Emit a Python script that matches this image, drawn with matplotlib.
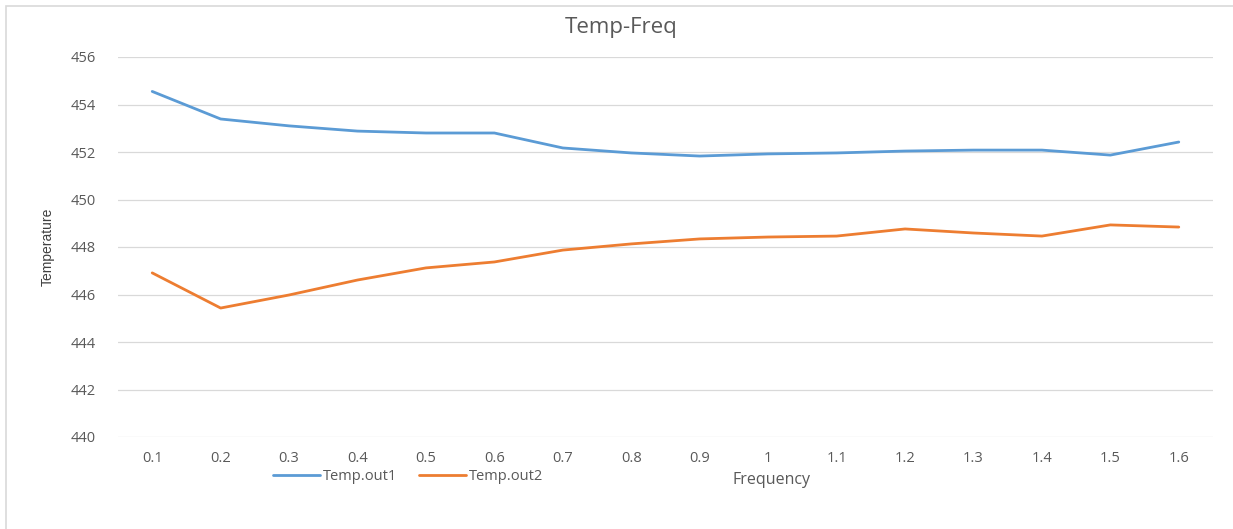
import matplotlib
matplotlib.use("Agg")
import matplotlib.pyplot as plt
from matplotlib.patches import Rectangle

# 频率-温度数据
freq = ["0.1", "0.2", "0.3", "0.4", "0.5", "0.6", "0.7", "0.8",
        "0.9", "1", "1.1", "1.2", "1.3", "1.4", "1.5", "1.6"]
temp_out1 = [454.55, 453.39, 453.10, 452.88, 452.80, 452.80, 452.17, 451.96,
             451.83, 451.92, 451.96, 452.04, 452.08, 452.08, 451.87, 452.42]
temp_out2 = [446.91, 445.43, 445.98, 446.61, 447.12, 447.37, 447.87, 448.13,
             448.34, 448.42, 448.46, 448.76, 448.59, 448.46, 448.93, 448.84]
y_ticks = [440, 442, 444, 446, 448, 450, 452, 454, 456]

W, H = 1233, 529
fig = plt.figure(figsize=(W / 100, H / 100), dpi=100)
fig.patch.set_facecolor("white")

# 外框
fig.patches.append(Rectangle((6 / W, -0.1), 1.2, 1.1 - 6 / H, transform=fig.transFigure,
                             fill=False, edgecolor="#D9D9D9", lw=1.2))

ax = fig.add_axes([118 / W, 1 - 437 / H, (1213 - 118) / W, (437 - 57) / H])
x = list(range(len(freq)))
ax.plot(x, temp_out1, color="#5B9BD5", lw=2.0, label="Temp.out1", solid_capstyle="round")
ax.plot(x, temp_out2, color="#ED7D31", lw=2.0, label="Temp.out2", solid_capstyle="round")

ax.set_xlim(-0.5, len(freq) - 0.5)
ax.set_ylim(440, 456)
ax.set_yticks(y_ticks)
ax.set_xticks(x)
ax.set_xticklabels(freq)
ax.grid(axis="y", color="#D9D9D9", lw=0.9)
ax.set_axisbelow(True)
for s in ax.spines.values():
    s.set_visible(False)
ax.tick_params(length=0, labelsize=10.5, labelcolor="#595959")
ax.tick_params(axis="x", pad=10)
ax.tick_params(axis="y", pad=16)
for lbl in ax.get_xticklabels() + ax.get_yticklabels():
    lbl.set_family(["Open Sans", "DejaVu Sans"])

fig.text(621 / W, 1 - 28 / H, "Temp-Freq", ha="center", va="center",
         fontsize=16, color="#595959", family=["Open Sans", "DejaVu Sans"])
fig.text(48 / W, 1 - 247 / H, "Temperature", ha="center", va="center", rotation=90,
         fontsize=10, color="#404040", family=["Liberation Sans", "DejaVu Sans"])
fig.text(771 / W, 1 - 480 / H, "Frequency", ha="center", va="center",
         fontsize=11.5, color="#595959", family=["Open Sans", "DejaVu Sans"])

leg = fig.legend(loc="center", bbox_to_anchor=(408 / W, 1 - 477 / H), ncol=2, frameon=False,
                 prop={"family": "Open Sans", "size": 10.5}, handlelength=3.2,
                 handletextpad=0.2, columnspacing=1.5)
for t in leg.get_texts():
    t.set_color("#595959")

fig.savefig("out.png", dpi=100)
